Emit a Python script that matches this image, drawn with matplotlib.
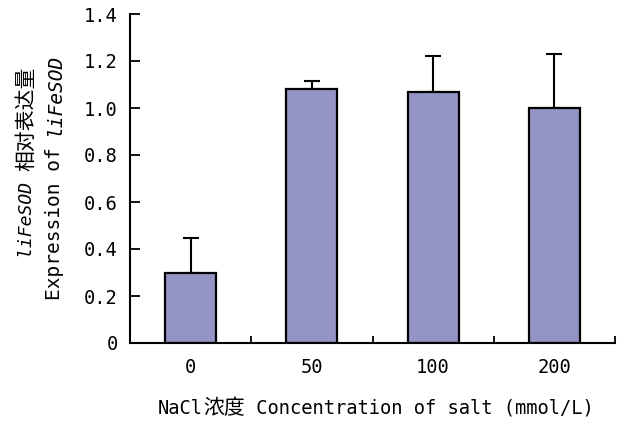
import matplotlib
matplotlib.use("Agg")
import matplotlib.pyplot as plt

# Relative expression of liFeSOD under salt stress
categories = ["0", "50", "100", "200"]
expression = [0.30, 1.08, 1.07, 1.00]
errors = [0.145, 0.035, 0.15, 0.23]
ytick_values = [0, 0.2, 0.4, 0.6, 0.8, 1.0, 1.2, 1.4]
ytick_labels = ["0", "0.2", "0.4", "0.6", "0.8", "1.0", "1.2", "1.4"]

LATIN = ["DejaVu Sans Mono", "Noto Sans CJK SC"]
CJK = ["Noto Sans CJK SC", "DejaVu Sans Mono"]
FS = 13.5
FS_CJK = 15
BAR_COLOR = "#9494c4"

W, H = 619, 421
fig = plt.figure(figsize=(W / 100, H / 100), dpi=100)
ax = fig.add_axes([130 / W, 1 - 343 / H, 485 / W, 329 / H])

x = list(range(len(categories)))
ax.bar(x, expression, width=0.42, color=BAR_COLOR, edgecolor="black",
       linewidth=1.6, zorder=2)
ax.errorbar(x, expression, yerr=[[0] * len(errors), errors], fmt="none",
            ecolor="black", elinewidth=1.5, capsize=6, capthick=1.5, zorder=1)

ax.set_xlim(-0.5, len(categories) - 0.5)
ax.set_ylim(0, 1.4)

for side in ("top", "right"):
    ax.spines[side].set_visible(False)
for side in ("left", "bottom"):
    ax.spines[side].set_linewidth(1.5)

ax.set_yticks(ytick_values)
ax.set_yticklabels(ytick_labels, fontfamily=LATIN, fontsize=FS)
ax.tick_params(axis="y", direction="in", length=7, width=1.3, pad=9)

ax.set_xticks(x)
ax.set_xticklabels(categories, fontfamily=LATIN, fontsize=FS)
ax.set_xticks([i + 0.5 for i in x], minor=True)
ax.tick_params(axis="x", which="major", length=0, pad=11)
ax.tick_params(axis="x", which="minor", direction="in", length=5, width=1.3)

renderer = fig.canvas.get_renderer()


def rich_text(px, py, pieces, vertical=False):
    """Draw a line made of (string, family, size, style) pieces on a shared
    baseline starting at pixel (px, py) measured from the top-left corner."""
    pos = px if not vertical else py
    for s, fam, size, style in pieces:
        if vertical:
            t = fig.text(px / W, 1 - pos / H, s, rotation=90,
                         rotation_mode="anchor", ha="left", va="baseline",
                         fontfamily=fam, fontsize=size, fontstyle=style)
            pos -= t.get_window_extent(renderer).height
        else:
            t = fig.text(pos / W, 1 - py / H, s, ha="left", va="baseline",
                         fontfamily=fam, fontsize=size, fontstyle=style)
            pos += t.get_window_extent(renderer).width


rich_text(158, 414, [("NaCl", LATIN, FS, "normal"),
                     ("浓度", CJK, FS_CJK, "normal"),
                     (" Concentration of salt (mmol/L)", LATIN, FS, "normal")])

rich_text(32, 258, [("liFeSOD ", LATIN, 13, "italic"),
                    ("相对表达量", CJK, FS_CJK, "normal")], vertical=True)
rich_text(60, 300, [("Expression of ", LATIN, 14, "normal"),
                    ("liFeSOD", LATIN, 14, "italic")], vertical=True)

fig.savefig("out.png", dpi=100)
